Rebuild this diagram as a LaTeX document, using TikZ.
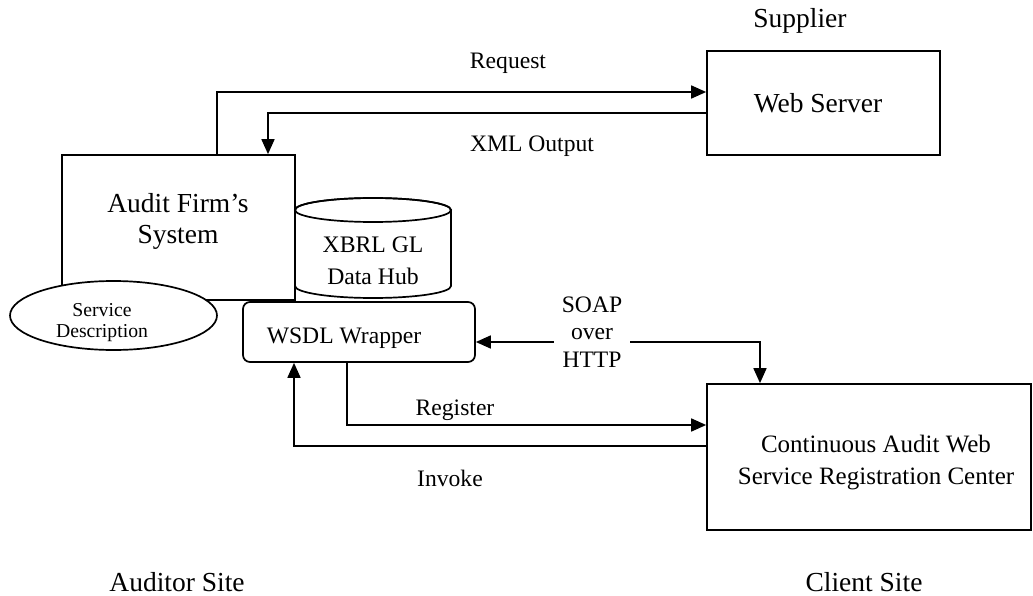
\documentclass[tikz,border=0pt]{standalone}
\usepackage{fontspec}
\setmainfont{Liberation Serif}
\usetikzlibrary{arrows.meta,shapes.geometric}

\begin{document}
\begin{tikzpicture}[x=1pt,y=1pt,line width=1.7pt,
  box/.style={draw, fill=white, inner sep=0pt},
  txt/.style={inner sep=0pt, align=center},
  big/.style={font=\fontsize{27.5}{31}\selectfont},
  cen/.style={font=\fontsize{25}{32}\selectfont},
  mid/.style={font=\fontsize{23.6}{27.5}\selectfont},
  sml/.style={font=\fontsize{19.7}{21}\selectfont},
  flow/.style={-{Triangle[length=15pt,width=13pt]}},
  flowboth/.style={{Triangle[length=15pt,width=13pt]}-{Triangle[length=15pt,width=13pt]}}
]
\useasboundingbox (0,0) rectangle (1033,-596);

% main boxes
\node[box, minimum width=233pt, minimum height=104pt] (ws) at (823.5,-103) {};
\node[box, minimum width=233pt, minimum height=145pt] (afs) at (178.5,-227.5) {};
\node[box, minimum width=324pt, minimum height=146pt] (car) at (869,-457) {};

% data hub cylinder
\coordinate (xbrl) at (373,-248);
\draw[fill=white] (295,-210) -- (295,-286)
  arc[start angle=180, end angle=360, x radius=78, y radius=12] -- (451,-210)
  arc[start angle=0, end angle=180, x radius=78, y radius=12] -- cycle;
\draw (373,-210) ellipse[x radius=78, y radius=12];

% service description and wrapper
\node[ellipse, draw, fill=white, minimum width=207pt, minimum height=69pt, inner sep=0pt] (sd) at (113.5,-315.5) {};
\node[box, rounded corners=7pt, minimum width=232pt, minimum height=60pt] (wr) at (359,-332) {};

% texts inside shapes
\node[txt, big, anchor=base] (wstext) at (818,-113) {Web Server};
\node[txt, big] (afstext) at (178,-221) {Audit Firm’s\\System};
\node[txt, font=\fontsize{23.7}{32}\selectfont] (xbrltext) at (373,-261) {XBRL GL\\Data Hub};
\node[txt, sml] (sdtext) at (102,-323) {Service\\Description};
\node[txt, mid, anchor=base] (wrtext) at (344,-343) {WSDL Wrapper};
\node[txt, cen] (cartext) at (876,-463) {Continuous Audit Web\\Service Registration Center};

% connectors
\draw[flow] ([xshift=38.5pt]afs.north) |- ([yshift=11pt]ws.west);
\draw[flow] ([yshift=-10pt]ws.west) -| ([xshift=89.5pt]afs.north);
\draw[flow] ([xshift=-12pt]wr.south) |- ([yshift=32pt]car.west);
\draw[flow] ([yshift=11pt]car.west) -| ([xshift=-65pt]wr.south);
\draw[flowboth] ([yshift=-10pt]wr.east) -| ([xshift=-109pt]car.north);

% connector labels
\node[txt, mid, anchor=base] (req) at (508,-69) {Request};
\node[txt, mid, anchor=base] (xml) at (532,-152) {XML Output};
\node[txt, mid, anchor=base] (reg) at (455,-415) {Register};
\node[txt, mid, anchor=base] (inv) at (450,-486) {Invoke};
\node[txt, mid, fill=white, inner xsep=8pt, inner ysep=0pt] (soap) at (592,-332) {SOAP\\over\\HTTP};

% site captions
\node[txt, big, anchor=base] (sup) at (800,-28) {Supplier};
\node[txt, big, anchor=base] (aud) at (177,-591) {Auditor Site};
\node[txt, big, anchor=base] (cli) at (864,-591) {Client Site};
\end{tikzpicture}
\end{document}
